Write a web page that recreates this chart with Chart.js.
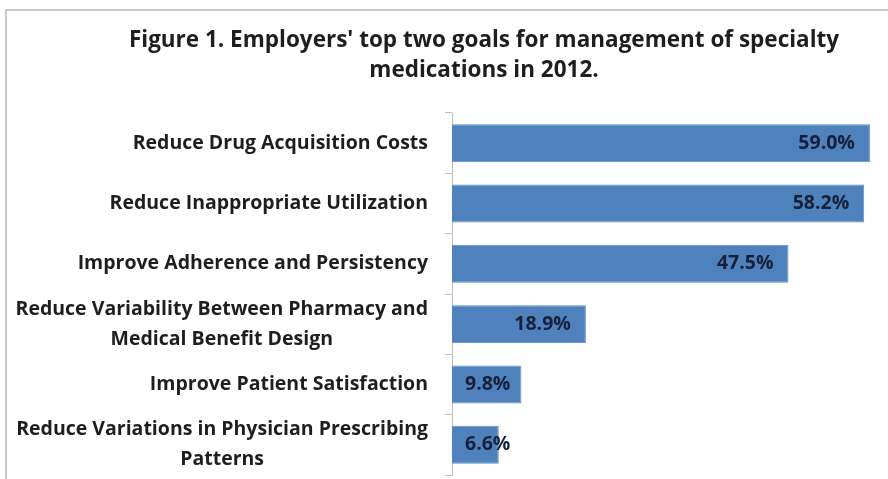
<!DOCTYPE html>
<html>
<head>
<meta charset="utf-8">
<script src="https://cdn.jsdelivr.net/npm/chart.js@4.4.1/dist/chart.umd.min.js"></script>
<style>
  html, body { margin: 0; padding: 0; background: #ffffff; }
  #wrap { position: relative; width: 888px; height: 479px; }
  canvas { display: block; }
</style>
</head>
<body>
<div id="wrap"><canvas id="c" width="888" height="479"></canvas></div>
<script>
const titleLines = ["Figure 1. Employers' top two goals for management of specialty", "medications in 2012."];
const categories = [
  ["Reduce Drug Acquisition Costs"],
  ["Reduce Inappropriate Utilization"],
  ["Improve Adherence and Persistency"],
  ["Reduce Variability Between Pharmacy and", "Medical Benefit Design"],
  ["Improve Patient Satisfaction"],
  ["Reduce Variations in Physician Prescribing", "Patterns"]
];
const values = [59.0, 58.2, 47.5, 18.9, 9.8, 6.6];
const valueLabels = ["59.0%", "58.2%", "47.5%", "18.9%", "9.8%", "6.6%"];

const FONT = "'Open Sans', Lato, sans-serif";
const LABEL_SIZE = 19.5;
const TITLE_SIZE = 22.5;
const LINE_H = 30;

const framePlugin = {
  id: 'frame',
  beforeDraw(chart) {
    const ctx = chart.ctx;
    ctx.save();
    ctx.fillStyle = '#ffffff';
    ctx.fillRect(0, 0, chart.width, chart.height);
    ctx.strokeStyle = '#c8c8c8';
    ctx.lineWidth = 2;
    ctx.beginPath();
    ctx.moveTo(6, chart.height);
    ctx.lineTo(6, 10);
    ctx.lineTo(chart.width, 10);
    ctx.stroke();
    ctx.restore();
  }
};

const textPlugin = {
  id: 'texts',
  afterDraw(chart) {
    const ctx = chart.ctx;
    const y = chart.scales.y;
    const x = chart.scales.x;
    ctx.save();
    // title
    ctx.fillStyle = '#1e1e1e';
    ctx.font = "bold " + TITLE_SIZE + "px " + FONT;
    ctx.textAlign = 'center';
    ctx.textBaseline = 'middle';
    ctx.fillText(titleLines[0], 484, 41);
    ctx.fillText(titleLines[1], 484, 71);
    // category labels
    ctx.font = "bold " + LABEL_SIZE + "px " + FONT;
    const rightEdge = y.right - 24;
    categories.forEach((lines, i) => {
      const cy = y.getPixelForTick(i);
      let maxW = 0;
      lines.forEach(l => { maxW = Math.max(maxW, ctx.measureText(l).width); });
      const cx = rightEdge - maxW / 2;
      const startY = cy - (lines.length - 1) * LINE_H / 2;
      ctx.fillStyle = '#1e1e1e';
      ctx.textAlign = 'center';
      lines.forEach((l, k) => ctx.fillText(l, cx, startY + k * LINE_H));
    });
    // value labels
    const meta = chart.getDatasetMeta(0);
    ctx.fillStyle = '#16203a';
    ctx.textAlign = 'right';
    meta.data.forEach((bar, i) => {
      const w = ctx.measureText(valueLabels[i]).width;
      const base = x.getPixelForValue(0);
      const endX = Math.max(bar.x - 15, base + 13 + w);
      ctx.fillText(valueLabels[i], endX, bar.y);
    });
    ctx.restore();
  }
};

new Chart(document.getElementById('c'), {
  type: 'bar',
  data: {
    labels: categories,
    datasets: [{
      data: values,
      backgroundColor: '#4f81bd',
      borderColor: '#5b8ac6',
      borderWidth: 1,
      barPercentage: 0.63,
      categoryPercentage: 1.0
    }]
  },
  options: {
    indexAxis: 'y',
    responsive: false,
    animation: false,
    devicePixelRatio: 1,
    layout: { padding: { left: 6, right: 11, top: 113, bottom: 4 } },
    plugins: {
      legend: { display: false },
      title: { display: false },
      tooltip: { enabled: false }
    },
    scales: {
      x: {
        display: false,
        min: 0,
        max: 60
      },
      y: {
        afterFit(scale) { scale.width = 452 - 6; },
        grid: {
          drawOnChartArea: false,
          offset: true,
          tickLength: 7,
          color: '#bfbfbf'
        },
        border: { display: true, color: '#bfbfbf', width: 1 },
        ticks: { display: false }
      }
    }
  },
  plugins: [framePlugin, textPlugin]
});
</script>
</body>
</html>
